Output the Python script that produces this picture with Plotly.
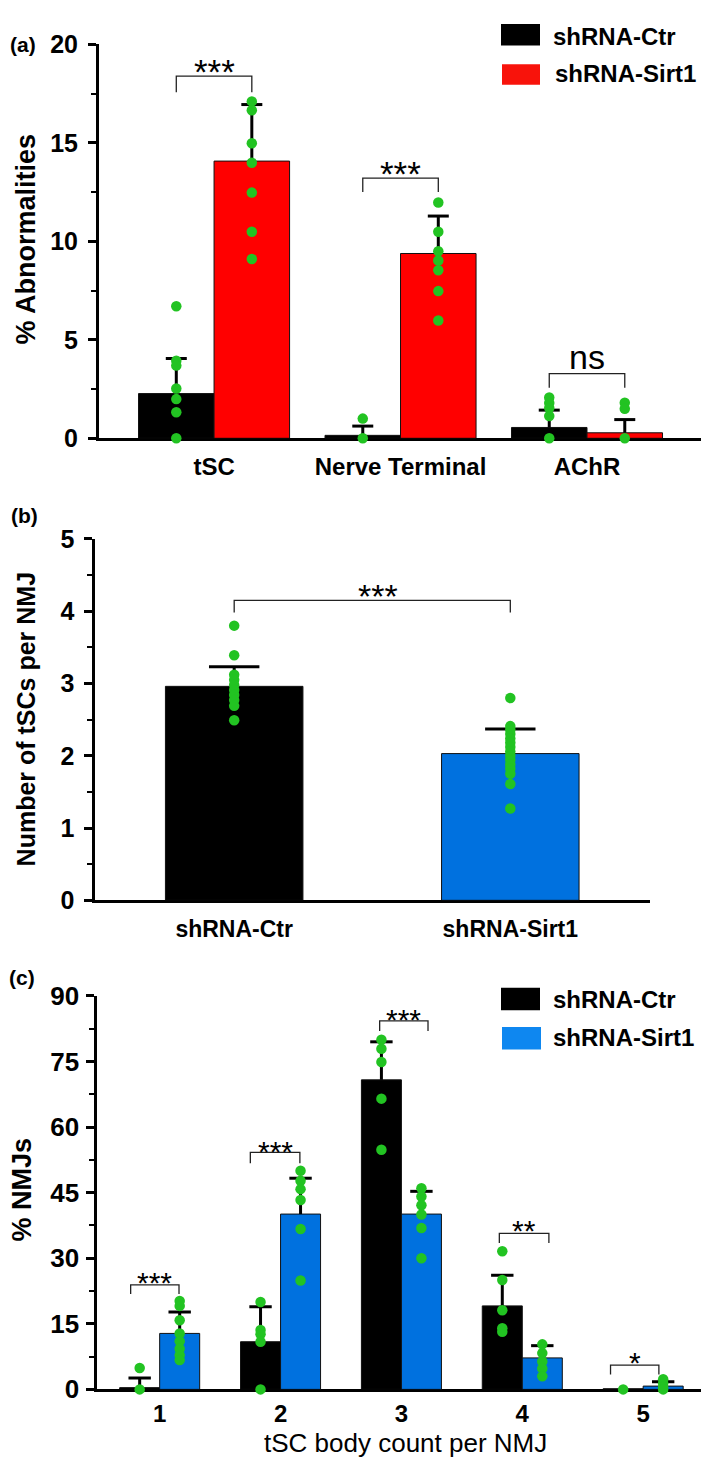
import plotly.graph_objects as go

W, H = 709, 1462
FONT = "Liberation Sans, Arial, sans-serif"
GREEN = "#22c322"
RED = "#ff0000"
BLUE = "#0071df"

# ---------------- Panel (a) data ----------------
cats_a = ["tSC", "Nerve Terminal", "AChR"]
ctr_mean_a = [2.27, 0.15, 0.55]
ctr_err_a = [1.78, 0.47, 0.88]
sirt_mean_a = [14.07, 9.38, 0.28]
sirt_err_a = [2.87, 1.90, 0.67]
ctr_pts_a = [[6.7, 3.94, 3.69, 2.53, 1.99, 1.32, 0.0],
             [1.0, 0.0],
             [2.07, 1.79, 1.54, 1.13, 0.0]]
sirt_pts_a = [[17.1, 16.65, 14.98, 13.99, 12.47, 10.48, 9.1],
              [11.97, 10.48, 9.49, 9.02, 8.53, 7.47, 5.98],
              [1.8, 1.5, 0.0]]
sig_a = ["***", "***", "ns"]
sig_top_a = [18.38, 13.21, 3.28]
sig_leg_a = [17.56, 12.5, 2.57]
sig_txt_a = [19.0, 13.87, 4.02]

# ---------------- Panel (b) data ----------------
cats_b = ["shRNA-Ctr", "shRNA-Sirt1"]
mean_b = [2.96, 2.03]
err_b = [0.27, 0.34]
pts_ctr_b = [3.80, 3.39, 3.12, 3.05, 2.98, 2.91, 2.84, 2.77, 2.69, 2.49]
pts_sirt_b = [2.80, 2.41, 2.36, 2.30, 2.24, 2.18, 2.12, 2.06, 2.00, 1.94,
              1.88, 1.82, 1.75, 1.61, 1.27]
sig_b = "***"
sig_top_b = 4.15
sig_leg_b = 3.98
sig_txt_b = 4.32

# ---------------- Panel (c) data ----------------
cats_c = ["1", "2", "3", "4", "5"]
ctr_mean_c = [0.4, 10.9, 70.8, 19.1, 0.15]
ctr_err_c = [2.2, 8.0, 8.7, 7.0, 0.0]
sirt_mean_c = [12.8, 40.1, 40.1, 7.2, 0.75]
sirt_err_c = [4.9, 8.2, 5.2, 2.8, 1.0]
ctr_pts_c = [[4.9, 0.0],
             [20.0, 13.6, 12.6, 10.9, 0.0],
             [80.0, 77.9, 74.9, 66.5, 54.8],
             [31.6, 25.0, 18.1, 14.0, 13.2],
             [0.0]]
sirt_pts_c = [[20.2, 19.1, 15.8, 12.8, 11.0, 9.3, 7.8, 6.7],
              [50.0, 47.7, 45.8, 43.3, 36.7, 24.9],
              [46.0, 44.1, 42.1, 40.0, 36.9, 30.0],
              [10.3, 8.3, 6.4, 4.8, 3.0],
              [2.3, 1.4, 0.6, 0.0]]
sig_c = ["***", "***", "***", "**", "*"]
sig_top_c = [23.9, 54.2, 84.3, 35.7, 5.55]
sig_leg_c = [21.8, 51.7, 82.0, 33.5, 3.4]
sig_txt_c = [26.1, 56.1, 86.3, 38.0, 7.8]
sig_left_c = [-0.24, -0.25, -0.18, -0.19, -0.27]
sig_right_c = [0.16, 0.16, 0.22, 0.22, 0.13]


def px(x):
    return x / W


def py(y):
    return 1 - y / H


fig = go.Figure()


def add_group(xa, ya, xs, means, errs, pts, color, bw, cap, dot):
    fig.add_trace(go.Bar(x=xs, y=means, width=bw, marker=dict(color=color, line=dict(color="#111", width=1)),
                         xaxis=xa, yaxis=ya, showlegend=False, hoverinfo="skip"))
    sx, sy, cx, cy = [], [], [], []
    for x, m, e in zip(xs, means, errs):
        if e and e > 0:
            sx += [x, x, None]
            sy += [m, m + e, None]
            cx.append(x)
            cy.append(m + e)
    fig.add_trace(go.Scatter(x=sx, y=sy, mode="lines", line=dict(color="black", width=3),
                             xaxis=xa, yaxis=ya, showlegend=False, hoverinfo="skip", cliponaxis=False))
    fig.add_trace(go.Scatter(x=cx, y=cy, mode="markers",
                             marker=dict(symbol="line-ew", size=cap, line=dict(color="black", width=3)),
                             xaxis=xa, yaxis=ya, showlegend=False, hoverinfo="skip", cliponaxis=False))
    dx, dy = [], []
    for x, p in zip(xs, pts):
        dx += [x] * len(p)
        dy += list(p)
    fig.add_trace(go.Scatter(x=dx, y=dy, mode="markers", marker=dict(color=GREEN, size=dot),
                             xaxis=xa, yaxis=ya, showlegend=False, hoverinfo="skip", cliponaxis=False))


# panel a
bw_a = 0.405
idx_a = list(range(len(cats_a)))
add_group("x", "y", [i - bw_a / 2 for i in idx_a], ctr_mean_a, ctr_err_a, ctr_pts_a, "black", bw_a, 15, 10.5)
add_group("x", "y", [i + bw_a / 2 for i in idx_a], sirt_mean_a, sirt_err_a, sirt_pts_a, RED, bw_a, 15, 10.5)

# panel b
bw_b = 0.498
add_group("x2", "y2", [0], [mean_b[0]], [err_b[0]], [pts_ctr_b], "black", bw_b, 36, 10.5)
add_group("x2", "y2", [1], [mean_b[1]], [err_b[1]], [pts_sirt_b], BLUE, bw_b, 36, 10.5)

# panel c
bw_c = 0.331
idx_c = [i + 1 for i in range(len(cats_c))]
add_group("x3", "y3", [i - bw_c / 2 for i in idx_c], ctr_mean_c, ctr_err_c, ctr_pts_c, "black", bw_c, 16, 10.5)
add_group("x3", "y3", [i + bw_c / 2 for i in idx_c], sirt_mean_c, sirt_err_c, sirt_pts_c, BLUE, bw_c, 16, 10.5)

shapes = []
annotations = []


def bracket(xref, yref, x1, x2, top, leg):
    shapes.append(dict(type="path", xref=xref, yref=yref,
                       path=f"M {x1},{leg} L {x1},{top} L {x2},{top} L {x2},{leg}",
                       line=dict(color="#222", width=1.3)))


def sig_text(xref, yref, x, y, text, size, shift):
    annotations.append(dict(xref=xref, yref=yref, x=x, y=y, text=text, showarrow=False,
                            font=dict(family=FONT, size=size, color="black"),
                            xanchor="center", yanchor="middle", yshift=shift))


for i in idx_a:
    bracket("x", "y", i - bw_a / 2, i + bw_a / 2, sig_top_a[i], sig_leg_a[i])
    if sig_a[i] == "ns":
        sig_text("x", "y", i, sig_txt_a[i], "ns", 34, 2)
    else:
        sig_text("x", "y", i, sig_txt_a[i], sig_a[i], 35, -8)

bracket("x2", "y2", 0, 1, sig_top_b, sig_leg_b)
sig_text("x2", "y2", 0.52, sig_txt_b, sig_b, 34, -8)

for k, c in enumerate(idx_c):
    bracket("x3", "y3", c + sig_left_c[k], c + sig_right_c[k], sig_top_c[k], sig_leg_c[k])
    sig_text("x3", "y3", c + (sig_left_c[k] + sig_right_c[k]) / 2, sig_txt_c[k], sig_c[k], 30, -7)

# legends (manual)
def legend_item(x0, x1, y0, y1, color, label, tx, ty):
    shapes.append(dict(type="rect", xref="paper", yref="paper", x0=px(x0), x1=px(x1), y0=py(y1), y1=py(y0),
                       fillcolor=color, line=dict(width=0)))
    annotations.append(dict(xref="paper", yref="paper", x=px(tx), y=py(ty), text=label, showarrow=False,
                            xanchor="left", yanchor="middle",
                            font=dict(family=FONT, size=24, color="black", weight="bold")))


legend_item(493, 532, 1, 23, "black", "shRNA-Ctr", 543, 14)
legend_item(494, 532, 42, 63, "#f8130b", "shRNA-Sirt1", 545, 52)
legend_item(493, 532, 985, 1008, "black", "shRNA-Ctr", 543, 997)
legend_item(494, 533, 1025, 1048, "#0e87f0", "shRNA-Sirt1", 543, 1036)

# titles & panel labels
def ytitle(text, x, y, size):
    annotations.append(dict(xref="paper", yref="paper", x=px(x), y=py(y), text=text, showarrow=False,
                            textangle=-90, xanchor="center", yanchor="middle",
                            font=dict(family=FONT, size=size, color="black", weight="bold")))


ytitle("% Abnormalities", 18, 221, 27)
ytitle("Number of tSCs per NMJ", 18, 711, 25)
ytitle("% NMJs", 14, 1191, 27)

for lab, x, y in [("(a)", 15, 22), ("(b)", 16, 503), ("(c)", 14, 974)]:
    annotations.append(dict(xref="paper", yref="paper", x=px(x), y=py(y), text=lab, showarrow=False,
                            xanchor="center", yanchor="middle",
                            font=dict(family=FONT, size=21, color="black", weight="bold")))

annotations.append(dict(xref="paper", yref="paper", x=px(397), y=py(1450), text="tSC body count per NMJ",
                        showarrow=False, xanchor="center", yanchor="middle",
                        font=dict(family=FONT, size=26, color="black")))


def yaxis(domain, rng, dtick, minor, size, standoff):
    return dict(domain=domain, range=rng, dtick=dtick, tick0=0, showgrid=False, zeroline=False,
                showline=True, linewidth=3, linecolor="black", ticks="outside", ticklen=8, tickwidth=2.5,
                tickcolor="black", tickfont=dict(family=FONT, size=size, color="black", weight="bold"),
                ticklabelstandoff=standoff, layer="below traces",
                minor=dict(dtick=minor, ticks="outside", ticklen=5, tickwidth=2, tickcolor="black"))


def xaxis(domain, rng, vals, text, anchor, size, standoff):
    return dict(domain=domain, range=rng, tickvals=vals, ticktext=text, showgrid=False, zeroline=False,
                showline=True, linewidth=3, linecolor="black", ticks="", anchor=anchor,
                tickfont=dict(family=FONT, size=size, color="black", weight="bold"),
                ticklabelstandoff=standoff, layer="below traces")


fig.update_layout(
    width=W, height=H, margin=dict(l=0, r=0, t=0, b=0),
    paper_bgcolor="white", plot_bgcolor="white", showlegend=False, barmode="overlay",
    xaxis=xaxis([px(91), px(695)], [-0.617, 2.622], idx_a, cats_a, "y", 24, 5),
    yaxis=yaxis([py(424), py(21.7)], [0, 20], 5, 2.5, 25, 5) | dict(anchor="x"),
    xaxis2=xaxis([px(87.3), px(642.3)], [-0.503, 1.507], [0, 1], cats_b, "y2", 23, 6),
    yaxis2=yaxis([py(895.7), py(526.7)], [0, 5], 1, 0.5, 25, 5) | dict(anchor="x2"),
    xaxis3=xaxis([px(89.3), px(695)], [0.484, 5.495], idx_c, cats_c, "y3", 24, 1),
    yaxis3=yaxis([py(1395), py(993.3)], [0, 90], 15, 7.5, 26, 2) | dict(anchor="x3"),
    shapes=shapes, annotations=annotations,
)

fig.write_html("out.html")
